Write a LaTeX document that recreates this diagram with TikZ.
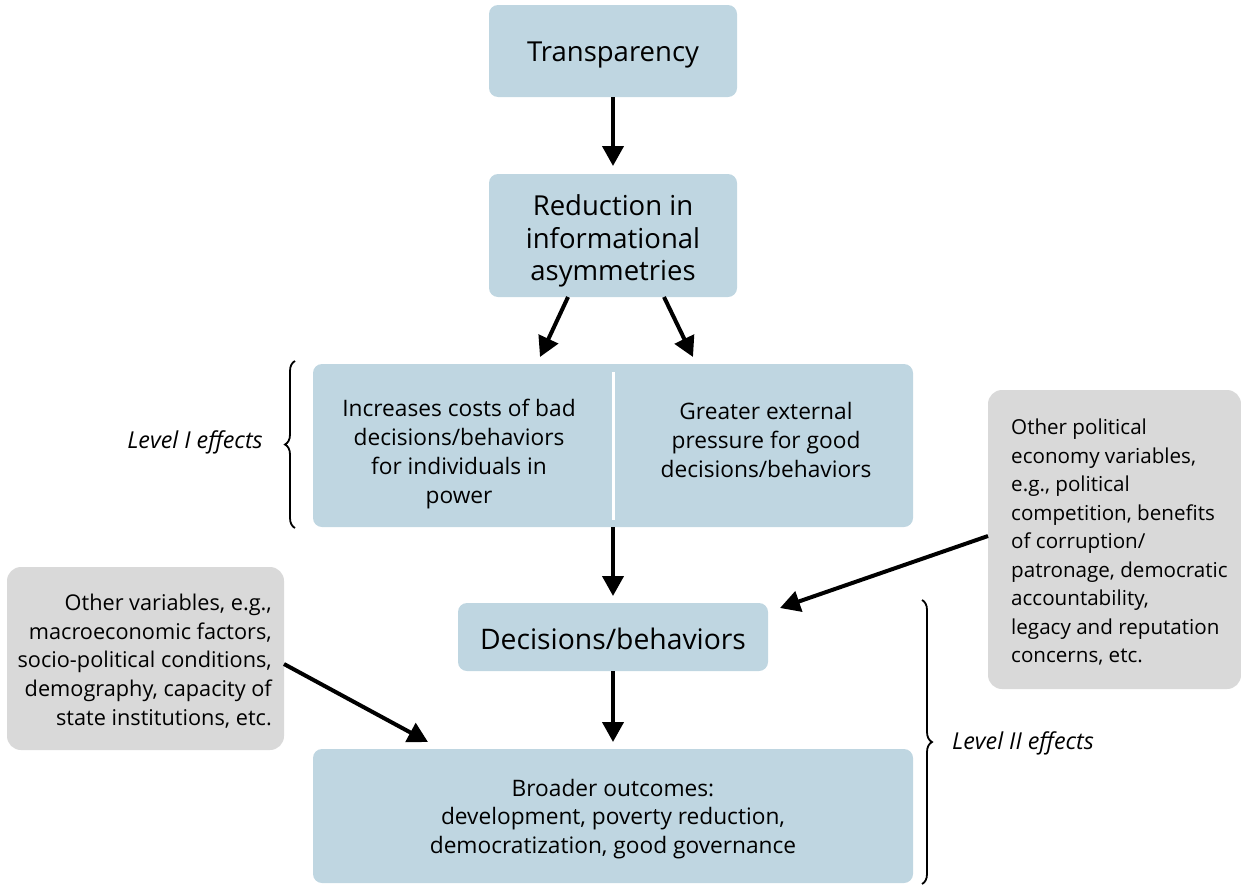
\documentclass[tikz,border=0pt]{standalone}
\usepackage{fontspec}
\setmainfont{Open Sans}
\usetikzlibrary{arrows.meta,decorations.pathreplacing}
\definecolor{bluebox}{HTML}{BFD6E1}
\definecolor{graybox}{HTML}{D9D9D9}
\tikzset{
  bbox/.style={fill=bluebox, rounded corners=9pt, draw=none},
  gbox/.style={fill=graybox, rounded corners=14pt, draw=none},
  flow/.style={line width=4pt, -{Triangle[length=20pt,width=21pt]}},
  bracedec/.style={decorate, decoration={brace, amplitude=10pt}, line width=1.8pt},
  txt/.style={align=center, font=\fontsize{22.7}{28.8}\selectfont, inner sep=0pt},
  gtxt/.style={font=\fontsize{21.7}{28.6}\selectfont, inner sep=0pt},
  bigtxt/.style={align=center, font=\fontsize{27.5}{32.5}\selectfont, inner sep=0pt},
  lvl/.style={font=\fontsize{23.3}{26}\selectfont\itshape, inner sep=0pt}
}
\begin{document}
\begin{tikzpicture}[x=1pt,y=-1pt]
\useasboundingbox (0,0) rectangle (1241,886);
% boxes
\path[bbox] (489,5) rectangle (737,97);
\node[bigtxt] (transp) at (613,55) {Transparency};
\path[bbox] (489,174) rectangle (737,297);
\node[bigtxt] (reduc) at (613,241) {Reduction in\\informational\\asymmetries};
\path[bbox] (313,364) rectangle (913,527);
\draw[white, line width=3pt] (613,372) -- (613,520);
\node[txt] (costs) at (459,454) {Increases costs of bad\\decisions/behaviors\\for individuals in\\power};
\node[txt] (press) at (766,440) {Greater external\\pressure for good\\decisions/behaviors};
\path[bbox] (458,603) rectangle (768,671);
\node[bigtxt, font=\fontsize{28.3}{32}\selectfont] (dec) at (613,639) {Decisions/behaviors};
\path[bbox] (313,749) rectangle (913,883);
\node[txt] (broad) at (613,819) {Broader outcomes:\\development, poverty reduction,\\democratization, good governance};
\path[gbox] (7,567) rectangle (284,750);
\node[gtxt, align=right, anchor=east] (otherv) at (272,661) {Other variables, e.g.,\\macroeconomic factors,\\socio-political conditions,\\demography, capacity of\\state institutions, etc.};
\path[gbox] (988,390) rectangle (1241,689);
\node[gtxt, font=\fontsize{20.6}{28.5}\selectfont, align=left, anchor=west] (otherp) at (1011,542) {Other political\\economy variables,\\e.g., political\\competition, benefits\\of corruption/\\patronage, democratic\\accountability,\\legacy and reputation\\concerns, etc.};
% coordinates for arrows
\coordinate (t1) at (613,97);
\coordinate (t2) at (613,166);
\coordinate (r1) at (568,297);
\coordinate (r2) at (540,357);
\coordinate (r3) at (664,297);
\coordinate (r4) at (693,357);
\coordinate (l1) at (613,527);
\coordinate (l2) at (613,596);
\coordinate (d1) at (613,671);
\coordinate (d2) at (613,742);
\coordinate (p1) at (988,536);
\coordinate (p2) at (780,608);
\coordinate (v1) at (284,664);
\coordinate (v2) at (428,742);
\draw[flow] (t1) -- (t2);
\draw[flow] (r1) -- (r2);
\draw[flow] (r3) -- (r4);
\draw[flow] (l1) -- (l2);
\draw[flow] (d1) -- (d2);
\draw[flow] (p1) -- (p2);
\draw[flow] (v1) -- (v2);
% braces
\coordinate (b1a) at (295,528);
\coordinate (b1b) at (295,361);
\draw[bracedec] (b1a) -- (b1b);
\node[lvl, anchor=east] (lvl1) at (263,442) {Level I effects};
\coordinate (b2a) at (922,600);
\coordinate (b2b) at (922,884);
\draw[bracedec] (b2a) -- (b2b);
\node[lvl, anchor=west] (lvl2) at (952,743) {Level II effects};
\end{tikzpicture}
\end{document}
